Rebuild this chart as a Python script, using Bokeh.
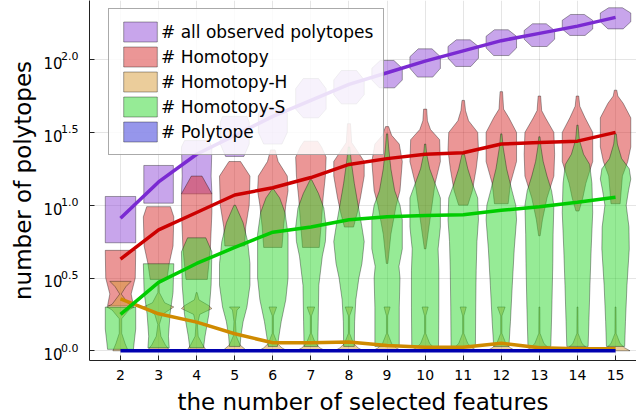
from bokeh.plotting import figure
from bokeh.models import (Range1d, FixedTicker, Legend, LegendItem,
                          CustomJSTickFormatter, LinearAxis)
from bokeh.embed import file_html
from bokeh.resources import INLINE

# ---------------- data (log10 of counts) ----------------
features = [2, 3, 4, 5, 6, 7, 8, 9, 10, 11, 12, 13, 14, 15]
y_ticks = [0.0, 0.5, 1.0, 1.5, 2.0]

series_names = ["# all observed polytopes", "# Homotopy", "# Homotopy-H",
                "# Homotopy-S", "# Polytope"]

mean_all = [0.91, 1.16, 1.35, 1.48, 1.61, 1.72, 1.83, 1.91, 1.99, 2.06, 2.13, 2.18, 2.23, 2.29]
mean_homotopy = [0.63, 0.83, 0.95, 1.07, 1.12, 1.19, 1.28, 1.32, 1.35, 1.36, 1.42, 1.43, 1.44, 1.50]
mean_homotopy_h = [0.357, 0.254, 0.197, 0.117, 0.055, 0.055, 0.06, 0.036, 0.025, 0.025, 0.052, 0.021, 0.014, 0.014]
mean_homotopy_s = [0.25, 0.47, 0.60, 0.71, 0.815, 0.85, 0.90, 0.92, 0.93, 0.935, 0.965, 0.99, 1.02, 1.055]
mean_polytope = [0.0] * 14

# violin profiles: (log10 value, relative half width) from bottom to top
violin_all = [
    [(0.742, 1.0), (1.06, 1.0)],
    [(1.014, 0.97), (1.273, 0.97)],
    [(1.078, 1.0), (1.2, 0.95), (1.40, 1.0), (1.444, 0.8)],
    [(1.335, 0.6), (1.42, 0.95), (1.57, 0.95), (1.61, 0.8)],
    [(1.42, 0.6), (1.5, 0.95), (1.63, 0.95), (1.673, 0.7)],
    [(1.60, 0.5), (1.66, 1.0), (1.80, 1.0), (1.87, 0.5)],
    [(1.696, 0.5), (1.76, 1.0), (1.86, 1.0), (1.925, 0.5)],
    [(1.806, 0.5), (1.86, 1.0), (1.94, 1.0), (1.994, 0.45)],
    [(1.88, 0.5), (1.94, 1.0), (2.02, 1.0), (2.074, 0.45)],
    [(1.953, 0.5), (2.01, 1.0), (2.09, 1.0), (2.136, 0.45)],
    [(2.028, 0.5), (2.08, 1.0), (2.16, 1.0), (2.205, 0.45)],
    [(2.09, 0.5), (2.14, 1.0), (2.2, 1.0), (2.246, 0.45)],
    [(2.166, 0.5), (2.21, 1.0), (2.27, 1.0), (2.31, 0.45)],
    [(2.211, 0.5), (2.26, 1.0), (2.32, 1.0), (2.356, 0.45)],
]

violin_homotopy = [
    [(0.31, 0.85), (0.39, 0.7), (0.5, 0.97), (0.69, 1.0)],
    [(0.49, 0.55), (0.6, 0.7), (0.72, 0.95), (0.92, 1.0), (0.99, 0.78)],
    [(0.49, 0.7), (0.7, 0.9), (0.95, 1.0), (1.078, 1.0), (1.2, 0.35)],
    [(0.72, 0.65), (0.85, 0.72), (1.0, 0.95), (1.2, 1.0), (1.30, 0.38)],
    [(0.71, 0.6), (0.85, 0.7), (1.0, 0.85), (1.1, 1.0), (1.2, 0.95), (1.3, 0.35), (1.38, 0.15)],
    [(0.71, 0.55), (0.9, 0.7), (1.05, 0.8), (1.2, 0.95), (1.33, 1.0), (1.40, 0.7), (1.44, 0.45)],
    [(0.85, 0.3), (0.95, 0.55), (1.05, 0.75), (1.2, 1.0), (1.30, 1.0), (1.38, 0.5), (1.43, 0.18), (1.56, 0.1)],
    [(0.60, 0.05), (0.8, 0.25), (1.0, 0.6), (1.1, 0.85), (1.3, 1.0), (1.42, 0.8), (1.48, 0.3), (1.54, 0.1)],
    [(0.70, 0.05), (0.85, 0.25), (1.0, 0.45), (1.15, 0.65), (1.3, 1.0), (1.45, 0.95), (1.52, 0.35), (1.58, 0.15), (1.66, 0.1)],
    [(1.0, 0.3), (1.1, 0.6), (1.25, 0.85), (1.38, 1.0), (1.5, 0.95), (1.58, 0.35), (1.65, 0.15), (1.72, 0.08)],
    [(1.01, 0.45), (1.15, 0.6), (1.3, 1.0), (1.5, 1.0), (1.6, 0.5), (1.66, 0.15), (1.78, 0.08)],
    [(0.79, 0.05), (0.9, 0.2), (1.05, 0.5), (1.2, 0.95), (1.35, 1.0), (1.5, 0.95), (1.6, 0.4), (1.65, 0.15), (1.75, 0.08)],
    [(0.96, 0.1), (1.05, 0.35), (1.15, 0.55), (1.3, 1.0), (1.5, 1.0), (1.6, 0.5), (1.68, 0.15), (1.75, 0.08)],
    [(1.01, 0.3), (1.2, 0.45), (1.3, 0.8), (1.4, 1.0), (1.6, 1.0), (1.7, 0.5), (1.75, 0.15), (1.79, 0.08)],
]

violin_homotopy_h = [
    [(0.0, 0.5), (0.05, 0.3), (0.12, 0.08), (0.22, 0.08), (0.28, 0.55), (0.301, 0.9), (0.32, 0.55), (0.39, 0.05), (0.44, 0.35), (0.477, 0.7)],
    [(0.0, 0.75), (0.04, 0.45), (0.1, 0.15), (0.18, 0.05), (0.25, 0.25), (0.301, 1.0), (0.33, 0.4), (0.4, 0.05), (0.477, 0.03)],
    [(0.0, 0.65), (0.04, 0.4), (0.1, 0.1), (0.18, 0.05), (0.25, 0.2), (0.29, 1.0), (0.31, 0.8), (0.35, 0.15), (0.4, 0.03)],
    [(0.0, 0.8), (0.04, 0.35), (0.1, 0.1), (0.2, 0.05), (0.28, 0.15), (0.301, 0.35)],
    [(0.0, 0.95), (0.02, 0.6), (0.05, 0.3), (0.09, 0.15), (0.12, 0.04), (0.24, 0.04), (0.301, 0.25)],
    [(0.0, 0.95), (0.02, 0.6), (0.05, 0.3), (0.09, 0.15), (0.12, 0.04), (0.24, 0.04), (0.301, 0.25)],
    [(0.0, 0.95), (0.02, 0.6), (0.05, 0.3), (0.09, 0.15), (0.12, 0.04), (0.24, 0.04), (0.301, 0.25)],
    [(0.0, 0.95), (0.02, 0.6), (0.05, 0.3), (0.09, 0.15), (0.12, 0.04), (0.24, 0.04), (0.301, 0.2)],
    [(0.0, 0.95), (0.02, 0.6), (0.05, 0.3), (0.09, 0.15), (0.12, 0.04), (0.24, 0.04), (0.301, 0.2)],
    [(0.0, 0.95), (0.02, 0.6), (0.05, 0.3), (0.09, 0.15), (0.12, 0.04), (0.24, 0.04), (0.301, 0.2)],
    [(0.0, 0.95), (0.02, 0.6), (0.05, 0.3), (0.09, 0.15), (0.12, 0.04), (0.24, 0.04), (0.301, 0.25)],
    [(0.0, 0.95), (0.02, 0.6), (0.05, 0.3), (0.09, 0.15), (0.12, 0.04), (0.301, 0.03)],
    [(0.0, 0.95), (0.02, 0.6), (0.05, 0.3), (0.09, 0.15), (0.12, 0.04), (0.301, 0.03)],
    [(0.0, 0.95), (0.02, 0.6), (0.05, 0.3), (0.09, 0.15), (0.12, 0.04), (0.301, 0.03)],
]

violin_homotopy_s = [
    [(0.01, 0.85), (0.06, 0.9), (0.15, 1.0), (0.30, 1.0)],
    [(0.02, 0.7), (0.1, 0.65), (0.25, 0.75), (0.4, 0.95), (0.598, 1.0)],
    [(0.02, 0.45), (0.1, 0.55), (0.25, 0.8), (0.45, 0.95), (0.68, 1.0), (0.776, 0.6)],
    [(0.03, 0.35), (0.1, 0.4), (0.2, 0.55), (0.3, 0.8), (0.45, 1.0), (0.6, 1.0), (0.75, 0.85), (0.88, 0.55), (1.0, 0.05)],
    [(0.03, 0.3), (0.1, 0.4), (0.2, 0.55), (0.35, 0.85), (0.5, 1.0), (0.8, 1.0), (0.95, 0.8), (1.05, 0.45), (1.11, 0.05)],
    [(0.03, 0.45), (0.2, 0.48), (0.45, 0.52), (0.65, 0.75), (0.75, 0.95), (0.85, 1.0), (0.98, 0.85), (1.08, 0.5), (1.175, 0.05)],
    [(0.03, 0.35), (0.2, 0.37), (0.35, 0.45), (0.5, 0.65), (0.6, 0.85), (0.75, 1.0), (0.85, 0.85), (1.0, 0.6), (1.15, 0.35), (1.3, 0.15), (1.4, 0.05)],
    [(0.03, 0.8), (0.3, 0.8), (0.5, 0.85), (0.58, 0.78), (0.7, 1.0), (0.9, 1.0), (1.0, 0.85), (1.1, 0.5), (1.25, 0.25), (1.4, 0.1), (1.49, 0.04)],
    [(0.03, 0.88), (0.3, 0.9), (0.55, 0.9), (0.7, 0.85), (0.85, 1.0), (1.05, 1.0), (1.15, 0.65), (1.25, 0.3), (1.35, 0.1), (1.42, 0.04)],
    [(0.03, 0.8), (0.3, 0.82), (0.55, 0.85), (0.75, 0.9), (0.9, 1.0), (1.05, 0.95), (1.15, 0.6), (1.25, 0.3), (1.35, 0.08)],
    [(0.03, 0.5), (0.2, 0.6), (0.45, 0.72), (0.7, 0.85), (0.9, 1.0), (1.0, 0.95), (1.1, 0.7), (1.25, 0.35), (1.4, 0.12), (1.49, 0.04)],
    [(0.03, 0.75), (0.3, 0.82), (0.6, 0.88), (0.8, 0.9), (1.0, 0.95), (1.1, 0.8), (1.2, 0.5), (1.3, 0.25), (1.4, 0.1), (1.47, 0.04)],
    [(0.03, 0.7), (0.2, 0.75), (0.45, 0.82), (0.7, 0.9), (0.95, 1.0), (1.15, 0.95), (1.28, 0.8), (1.35, 0.4), (1.45, 0.12), (1.55, 0.04)],
    [(0.03, 0.6), (0.2, 0.65), (0.45, 0.75), (0.7, 0.9), (0.85, 0.88), (1.0, 0.7), (1.1, 0.85), (1.18, 1.0), (1.25, 0.9), (1.32, 0.4), (1.42, 0.12), (1.49, 0.05)],
]

# every polytope count equals 1 -> violins collapse to zero size at 10^0
violin_polytope = [[(0.0, 0.0), (0.0, 0.0)] for _ in features]

fill_colors = ["#914BD7", "#D72D2D", "#D79B37", "#2DD72D", "#2D2DD7"]
line_colors = ["#7A2AD2", "#CC0000", "#CF8A00", "#00CC00", "#0000B0"]

# ---------------- figure ----------------
FONT = "DejaVu Sans"
HALF = 0.4
Y0, Y1 = -0.0666, 2.406

p = figure(width=636, height=419, output_backend="svg", toolbar_location=None,
           x_range=Range1d(1.186, 15.55), y_range=Range1d(Y0, Y1),
           min_border_left=89, min_border_right=0, min_border_top=0, min_border_bottom=59)
p.outline_line_color = None
p.background_fill_color = "white"
p.extra_y_ranges = {"sup": Range1d(Y0 - 0.022, Y1 - 0.022),
                    "base": Range1d(Y0 + 0.024, Y1 + 0.024)}


def outline(xc, prof):
    ys = [q[0] for q in prof]
    ws = [q[1] * HALF for q in prof]
    xs = [xc - w for w in ws] + [xc + w for w in reversed(ws)]
    return xs, ys + ys[::-1]


violins = [violin_all, violin_homotopy, violin_homotopy_h, violin_homotopy_s, violin_polytope]
renderers = []
for k, vset in enumerate(violins):
    XS, YS = [], []
    for xc, prof in zip(features, vset):
        xs, ys = outline(xc, prof)
        XS.append(xs)
        YS.append(ys)
    r = p.patches(xs=XS, ys=YS, fill_color=fill_colors[k], fill_alpha=0.5,
                  line_color="black", line_alpha=0.35, line_width=1)
    renderers.append(r)

means = [mean_all, mean_homotopy, mean_homotopy_h, mean_homotopy_s, mean_polytope]
for k, m in enumerate(means):
    p.line(features, m, line_color=line_colors[k], line_width=3.5)

# grids
p.xgrid.ticker = FixedTicker(ticks=features)
p.ygrid.ticker = FixedTicker(ticks=y_ticks)
for g in (p.xgrid, p.ygrid):
    g.grid_line_color = "black"
    g.grid_line_alpha = 0.1
    g.grid_line_width = 1

# x axis
xa = p.below[0]
xa.ticker = FixedTicker(ticks=features)
xa.major_tick_in = 5
xa.major_tick_out = 0
xa.minor_tick_line_color = None
xa.axis_line_color = "#222222"
xa.major_tick_line_color = "#222222"
xa.major_label_text_font = FONT
xa.major_label_text_font_size = "14px"
xa.major_label_text_color = "black"
xa.major_label_standoff = 9
xa.axis_label = "the number of selected features"
xa.axis_label_text_font = FONT
xa.axis_label_text_font_size = "23px"
xa.axis_label_text_font_style = "normal"
xa.axis_label_text_color = "black"
xa.axis_label_standoff = 6

# main y axis: line + inward ticks only
ya = p.left[0]
ya.ticker = FixedTicker(ticks=y_ticks)
ya.major_tick_in = 5
ya.major_tick_out = 0
ya.minor_tick_line_color = None
ya.axis_line_color = "#222222"
ya.major_tick_line_color = "#222222"
ya.formatter = CustomJSTickFormatter(code="return '';")
ya.major_label_standoff = 0
ya.major_label_text_font_size = "1px"

# superscript exponents (raised slightly)
ys_ax = LinearAxis(y_range_name="sup", ticker=FixedTicker(ticks=y_ticks),
                   formatter=CustomJSTickFormatter(code="return tick.toFixed(1);"),
                   axis_line_color=None, major_tick_line_color=None,
                   minor_tick_line_color=None, major_tick_in=0, major_tick_out=0,
                   major_label_standoff=11, major_label_text_font=FONT,
                   major_label_text_font_size="11px", major_label_text_color="black")
p.add_layout(ys_ax, "left")

# base "10"
yb_ax = LinearAxis(y_range_name="base", ticker=FixedTicker(ticks=y_ticks),
                   formatter=CustomJSTickFormatter(code="return '10';"),
                   axis_line_color=None, major_tick_line_color=None,
                   minor_tick_line_color=None, major_tick_in=0, major_tick_out=0,
                   major_label_standoff=-4, major_label_text_font=FONT,
                   major_label_text_font_size="15px", major_label_text_color="black",
                   axis_label="number of polytopes", axis_label_text_font=FONT,
                   axis_label_text_font_size="23px", axis_label_text_font_style="normal",
                   axis_label_text_color="black", axis_label_standoff=4)
p.add_layout(yb_ax, "left")

legend = Legend(items=[LegendItem(label=n, renderers=[r]) for n, r in zip(series_names, renderers)],
                location=(19, 205), margin=0, padding=10, spacing=0,
                glyph_width=42, glyph_height=25, label_standoff=0,
                label_text_font=FONT, label_text_font_size="17px", label_text_color="black",
                background_fill_color="white", background_fill_alpha=0.85,
                border_line_color="#555555", border_line_width=1)
p.add_layout(legend)

open("out.html", "w").write(file_html(p, INLINE))
